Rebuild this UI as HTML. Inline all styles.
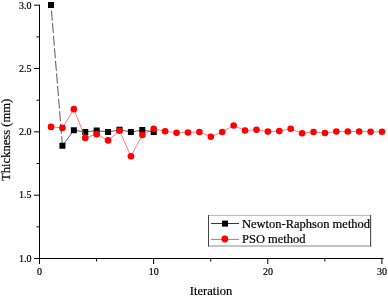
<!DOCTYPE html>
<html><head><meta charset="utf-8"><title>Iteration chart</title>
<style>
html,body{margin:0;padding:0;background:#fff;}
body{width:388px;height:296px;overflow:hidden;}
svg{display:block;}
text{font-family:"Liberation Serif","Times New Roman",serif;fill:#000;stroke:#000;stroke-width:0.2px;}
</style></head><body>
<svg width="388" height="296" viewBox="0 0 388 296">
<rect width="388" height="296" fill="#fff"/>
<g stroke="#000" stroke-width="1" fill="none">
<line x1="39.5" y1="4.7" x2="39.5" y2="259.0"/>
<line x1="39.0" y1="258.5" x2="383.5" y2="258.5"/>
<line x1="34.0" y1="258.5" x2="39.5" y2="258.5"/>
<line x1="36.5" y1="226.84" x2="39.5" y2="226.84"/>
<line x1="34.0" y1="195.18" x2="39.5" y2="195.18"/>
<line x1="36.5" y1="163.51" x2="39.5" y2="163.51"/>
<line x1="34.0" y1="131.85" x2="39.5" y2="131.85"/>
<line x1="36.5" y1="100.19" x2="39.5" y2="100.19"/>
<line x1="34.0" y1="68.53" x2="39.5" y2="68.53"/>
<line x1="36.5" y1="36.86" x2="39.5" y2="36.86"/>
<line x1="34.0" y1="5.2" x2="39.5" y2="5.2"/>
<line x1="39.5" y1="258.5" x2="39.5" y2="264.0"/>
<line x1="96.57" y1="258.5" x2="96.57" y2="261.5"/>
<line x1="153.64" y1="258.5" x2="153.64" y2="264.0"/>
<line x1="210.71" y1="258.5" x2="210.71" y2="261.5"/>
<line x1="267.78" y1="258.5" x2="267.78" y2="264.0"/>
<line x1="324.85" y1="258.5" x2="324.85" y2="261.5"/>
<line x1="381.92" y1="258.5" x2="381.92" y2="264.0"/>
</g>
<g font-size="10" text-anchor="end">
<text x="31.6" y="8.5">3.0</text>
<text x="31.6" y="71.83">2.5</text>
<text x="31.6" y="135.15">2.0</text>
<text x="31.6" y="198.48">1.5</text>
<text x="31.6" y="261.8">1.0</text>
</g>
<g font-size="10" text-anchor="middle">
<text x="39.6" y="274.6">0</text>
<text x="153.74" y="274.6">10</text>
<text x="267.88" y="274.6">20</text>
<text x="382.02" y="274.6">30</text>
</g>
<text x="211" y="295.2" font-size="12.5" text-anchor="middle">Iteration</text>
<text transform="translate(10,139.8) rotate(-90)" font-size="12.6" text-anchor="middle">Thickness (mm)</text>
<path d="M51.01 5 L62.43 145.75" stroke="#3a3a3a" stroke-width="0.85" stroke-dasharray="10 2.6" stroke-dashoffset="6.9" fill="none"/>
<polyline points="62.43,145.75 73.84,130.25 85.26,132 96.67,130.5 108.08,132 119.5,129.75 130.91,132 142.33,130 153.74,132" stroke="#333" stroke-width="0.8" fill="none"/>
<rect x="48.01" y="2" width="6" height="6" fill="#000"/>
<rect x="59.43" y="142.75" width="6" height="6" fill="#000"/>
<rect x="70.84" y="127.25" width="6" height="6" fill="#000"/>
<rect x="82.26" y="129" width="6" height="6" fill="#000"/>
<rect x="93.67" y="127.5" width="6" height="6" fill="#000"/>
<rect x="105.08" y="129" width="6" height="6" fill="#000"/>
<rect x="116.5" y="126.75" width="6" height="6" fill="#000"/>
<rect x="127.91" y="129" width="6" height="6" fill="#000"/>
<rect x="139.33" y="127" width="6" height="6" fill="#000"/>
<rect x="150.74" y="129" width="6" height="6" fill="#000"/>
<polyline points="51.01,126.9 62.43,127.9 73.84,109.15 85.26,137.9 96.67,134.15 108.08,140.4 119.5,130.75 130.91,156.25 142.33,135 153.74,128.75 165.15,131.25 176.57,132.75 187.98,132.5 199.4,132 210.81,136.75 222.22,132 233.64,125.5 245.05,130.5 256.47,129.7 267.88,131.6 279.29,131.1 290.71,128.7 302.12,133.25 313.54,132 324.95,133 336.36,131.5 347.78,131.5 359.19,131.5 370.61,131.75 382.02,131.75" stroke="#ff4848" stroke-width="0.7" fill="none"/>
<circle cx="51.01" cy="126.9" r="3.3" fill="#ff0000"/>
<circle cx="62.43" cy="127.9" r="3.3" fill="#ff0000"/>
<circle cx="73.84" cy="109.15" r="3.3" fill="#ff0000"/>
<circle cx="85.26" cy="137.9" r="3.3" fill="#ff0000"/>
<circle cx="96.67" cy="134.15" r="3.3" fill="#ff0000"/>
<circle cx="108.08" cy="140.4" r="3.3" fill="#ff0000"/>
<circle cx="119.5" cy="130.75" r="3.3" fill="#ff0000"/>
<circle cx="130.91" cy="156.25" r="3.3" fill="#ff0000"/>
<circle cx="142.33" cy="135" r="3.3" fill="#ff0000"/>
<circle cx="153.74" cy="128.75" r="3.3" fill="#ff0000"/>
<circle cx="165.15" cy="131.25" r="3.3" fill="#ff0000"/>
<circle cx="176.57" cy="132.75" r="3.3" fill="#ff0000"/>
<circle cx="187.98" cy="132.5" r="3.3" fill="#ff0000"/>
<circle cx="199.4" cy="132" r="3.3" fill="#ff0000"/>
<circle cx="210.81" cy="136.75" r="3.3" fill="#ff0000"/>
<circle cx="222.22" cy="132" r="3.3" fill="#ff0000"/>
<circle cx="233.64" cy="125.5" r="3.3" fill="#ff0000"/>
<circle cx="245.05" cy="130.5" r="3.3" fill="#ff0000"/>
<circle cx="256.47" cy="129.7" r="3.3" fill="#ff0000"/>
<circle cx="267.88" cy="131.6" r="3.3" fill="#ff0000"/>
<circle cx="279.29" cy="131.1" r="3.3" fill="#ff0000"/>
<circle cx="290.71" cy="128.7" r="3.3" fill="#ff0000"/>
<circle cx="302.12" cy="133.25" r="3.3" fill="#ff0000"/>
<circle cx="313.54" cy="132" r="3.3" fill="#ff0000"/>
<circle cx="324.95" cy="133" r="3.3" fill="#ff0000"/>
<circle cx="336.36" cy="131.5" r="3.3" fill="#ff0000"/>
<circle cx="347.78" cy="131.5" r="3.3" fill="#ff0000"/>
<circle cx="359.19" cy="131.5" r="3.3" fill="#ff0000"/>
<circle cx="370.61" cy="131.75" r="3.3" fill="#ff0000"/>
<circle cx="382.02" cy="131.75" r="3.3" fill="#ff0000"/>
<rect x="208.5" y="215.5" width="162.5" height="30.5" fill="#fff"/>
<line x1="208" y1="215.4" x2="371.4" y2="215.4" stroke="#b0b0b0" stroke-width="0.9"/>
<line x1="208" y1="246" x2="371.4" y2="246" stroke="#8a8a8a" stroke-width="1"/>
<line x1="208.5" y1="215" x2="208.5" y2="246.5" stroke="#444" stroke-width="1"/>
<line x1="370.6" y1="215" x2="370.6" y2="246.5" stroke="#4a4a4a" stroke-width="1.1"/>
<line x1="211" y1="223.5" x2="239" y2="223.5" stroke="#222" stroke-width="0.9"/>
<rect x="222" y="220.6" width="6" height="6" fill="#000"/>
<line x1="211" y1="239.4" x2="239" y2="239.4" stroke="#ff3030" stroke-width="0.8"/>
<circle cx="224.8" cy="239" r="3.4" fill="#ff0000"/>
<text x="242" y="227.8" font-size="12.5">Newton-Raphson method</text>
<text x="242" y="243" font-size="12.5">PSO method</text>
</svg></body></html>
